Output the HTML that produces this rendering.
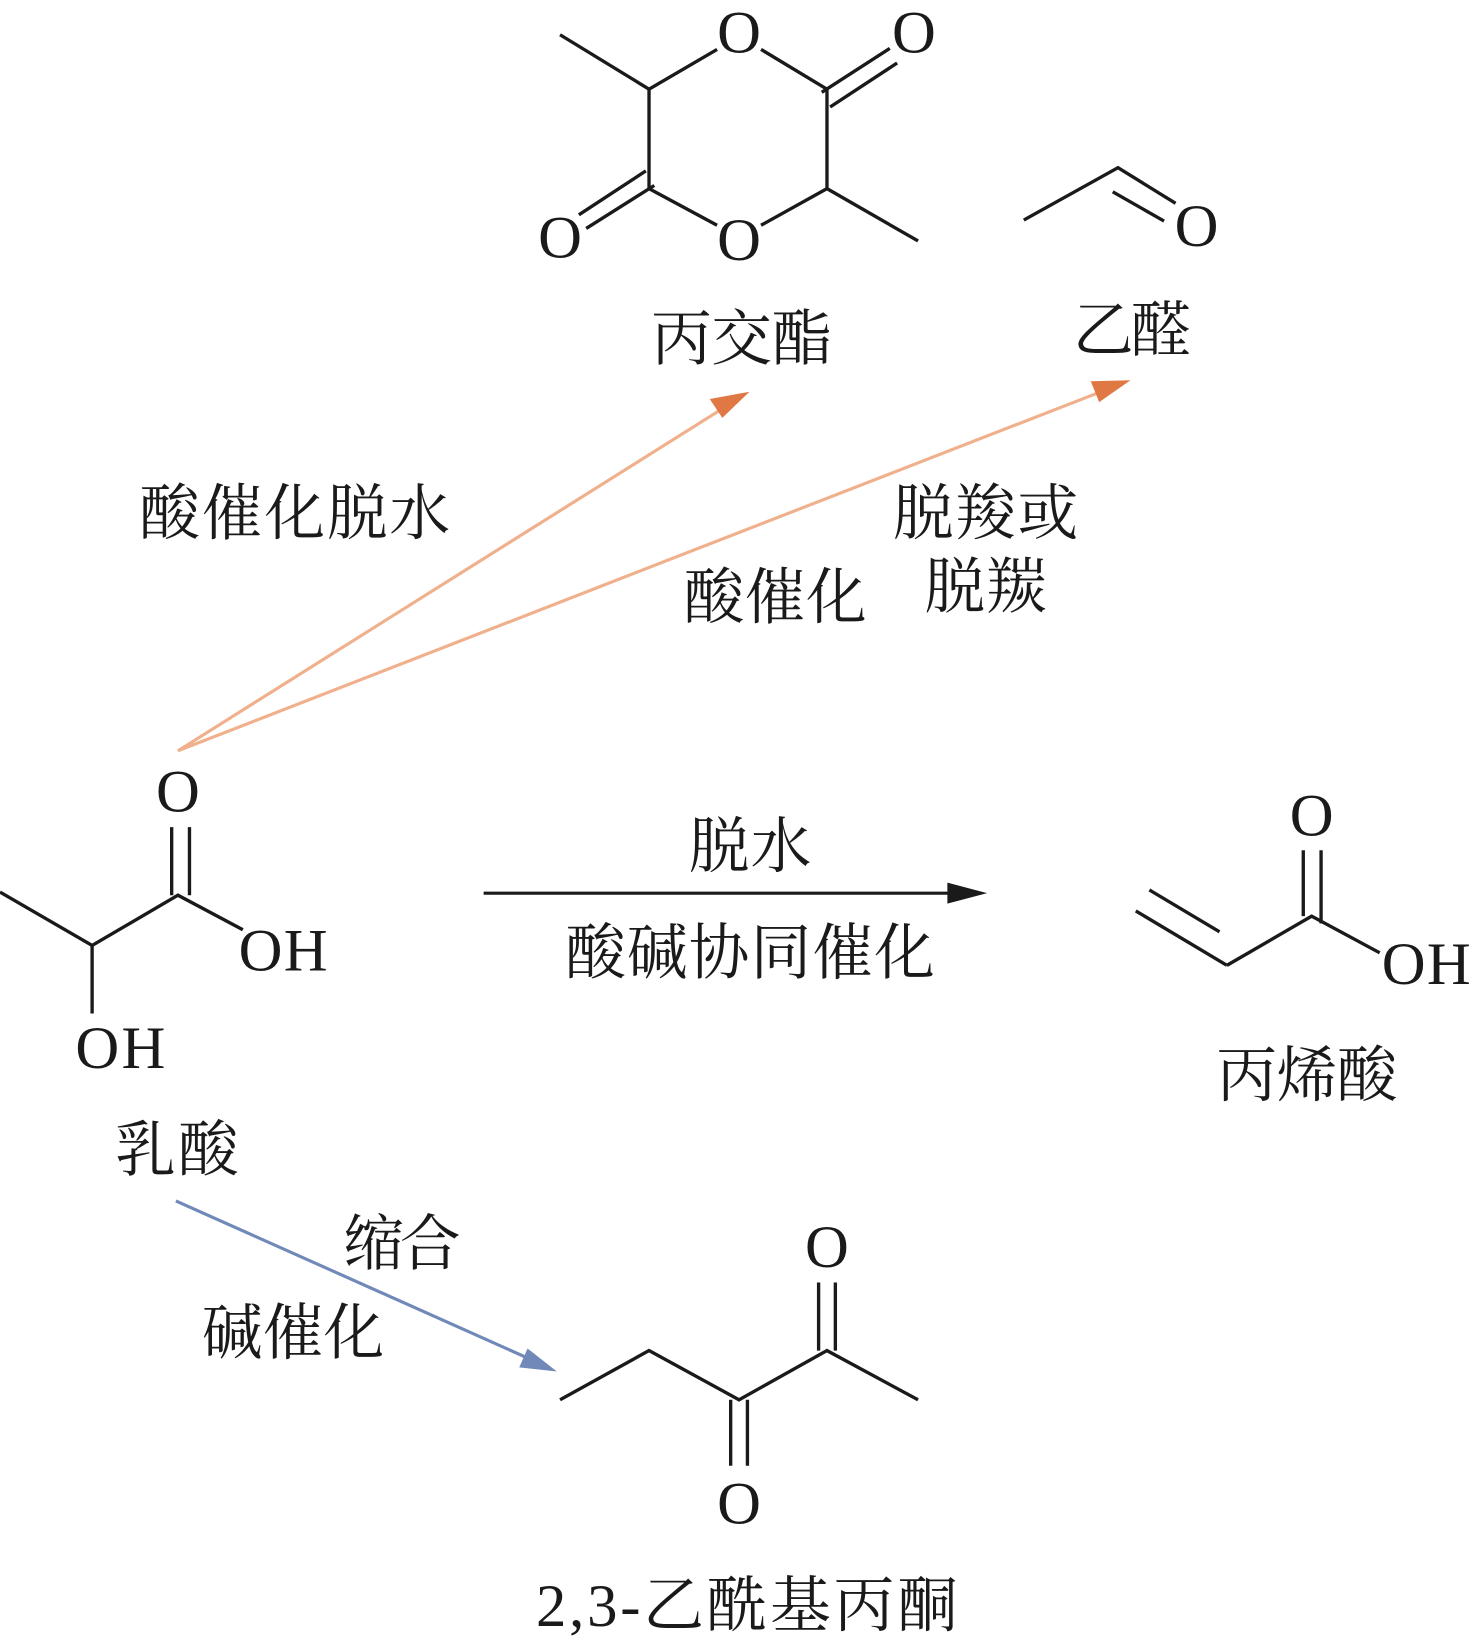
<!DOCTYPE html>
<html><head><meta charset="utf-8"><style>
html,body{margin:0;padding:0;background:#fff}
svg{display:block}
.t{font-family:"Liberation Serif","Noto Serif CJK SC",serif;fill:#1a1a1a}
.c{font-family:"Liberation Serif","Noto Serif CJK SC","Noto Sans CJK SC",serif;fill:#1a1a1a;font-size:58px}
</style></head><body>
<svg width="1476" height="1646" viewBox="0 0 1410 1572" xmlns="http://www.w3.org/2000/svg">
<g stroke="#1a1a1a" stroke-width="3.2" fill="none" stroke-linecap="butt">
<polyline points="0,852 88,903 170,855 232,888"/>
<line x1="88" y1="903" x2="88" y2="968"/>
<line x1="164" y1="790" x2="164" y2="855"/>
<line x1="181" y1="790" x2="181" y2="855"/>
<line x1="535" y1="33" x2="620" y2="85"/>
<line x1="620" y1="85" x2="685" y2="47"/>
<line x1="727" y1="47" x2="790" y2="85"/>
<line x1="790" y1="85" x2="790" y2="180"/>
<line x1="790" y1="180" x2="727" y2="215"/>
<line x1="685" y1="215" x2="620" y2="180"/>
<line x1="620" y1="180" x2="620" y2="85"/>
<line x1="790" y1="180" x2="877" y2="230"/>
<line x1="785" y1="88" x2="850" y2="46"/>
<line x1="793" y1="102" x2="857" y2="60"/>
<line x1="625" y1="177" x2="560" y2="218"/>
<line x1="617" y1="163" x2="553" y2="205"/>
<polyline points="978,210 1068,160 1123,194"/>
<line x1="1063" y1="183" x2="1112" y2="211"/>
<line x1="1085" y1="870" x2="1172" y2="922"/>
<line x1="1098" y1="850" x2="1165" y2="890"/>
<polyline points="1172,922 1253,875 1318,910"/>
<line x1="1245" y1="812" x2="1245" y2="875"/>
<line x1="1262" y1="812" x2="1262" y2="882"/>
<polyline points="535,1337 620,1290 706,1337 790,1290 877,1337"/>
<line x1="698" y1="1337" x2="698" y2="1400"/>
<line x1="714" y1="1337" x2="714" y2="1400"/>
<line x1="782" y1="1225" x2="782" y2="1290"/>
<line x1="798" y1="1225" x2="798" y2="1290"/>
</g>
<line x1="170" y1="717" x2="700" y2="384" stroke="#f0b08c" stroke-width="3"/>
<polygon points="716,374 678,381 690,399" fill="#e07844"/>
<line x1="170" y1="717" x2="1062" y2="370" stroke="#f0b08c" stroke-width="3"/>
<polygon points="1080,363 1042,364 1050,384" fill="#e07844"/>
<line x1="462" y1="853" x2="920" y2="853" stroke="#1a1a1a" stroke-width="3"/>
<polygon points="943,853 905,843 905,863" fill="#1a1a1a"/>
<line x1="168" y1="1147" x2="515" y2="1302" stroke="#7189b8" stroke-width="3"/>
<polygon points="532,1310 504,1288 496,1306" fill="#7189b8"/>
<g class="t" font-size="58" text-anchor="middle">
<text x="170" y="775">O</text>
<text x="706" y="50">O</text>
<text x="873" y="50">O</text>
<text x="706" y="248">O</text>
<text x="535" y="246">O</text>
<text x="1143" y="235">O</text>
<text x="1253" y="798">O</text>
<text x="790" y="1210">O</text>
<text x="706" y="1455">O</text>
</g>
<g class="t" font-size="58">
<text x="228" y="927" textLength="85">OH</text>
<text x="72" y="1020" textLength="86">OH</text>
<text x="1320" y="940" textLength="85">OH</text>
</g>
<text class="c" x="622" y="343" textLength="173">丙交酯</text>
<text class="c" x="1025" y="335" textLength="113">乙醛</text>
<text class="c" x="133" y="510" textLength="297">酸催化脱水</text>
<text class="c" x="853" y="510" textLength="177">脱羧或</text>
<text class="c" x="883" y="580" textLength="117">脱羰</text>
<text class="c" x="653" y="590" textLength="175">酸催化</text>
<text class="c" x="658" y="828" textLength="117">脱水</text>
<text class="c" x="540" y="930" textLength="353">酸碱协同催化</text>
<text class="c" x="110" y="1118" textLength="118">乳酸</text>
<text class="c" x="1162" y="1047" textLength="173">丙烯酸</text>
<text class="c" x="328" y="1208" textLength="112">缩合</text>
<text class="c" x="193" y="1293" textLength="174">碱催化</text>
<text class="c" x="512" y="1553" textLength="403">2,3-乙酰基丙酮</text>
</svg>
</body></html>
